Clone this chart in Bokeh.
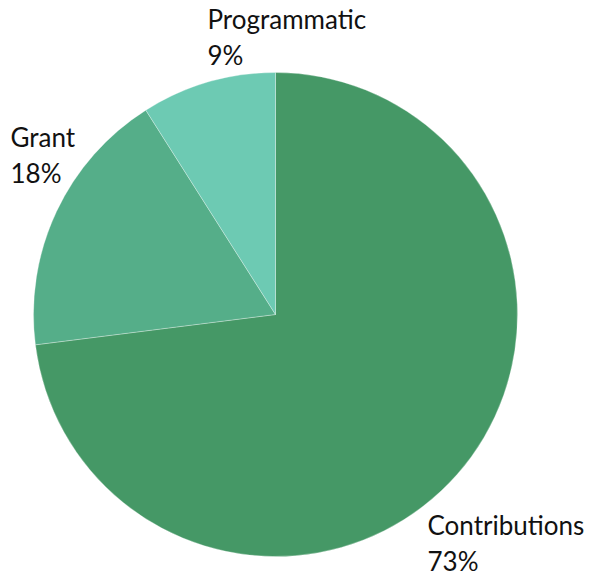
import numpy as np
from bokeh.plotting import figure
from bokeh.models import Range1d, ColumnDataSource
from bokeh.core.properties import value
from bokeh.embed import file_html
from bokeh.resources import INLINE

categories = ["Contributions", "Grant", "Programmatic"]
shares = [73, 18, 9]
colors = ["#459866", "#55ae89", "#6dcab3"]

W, H = 590, 575
p = figure(width=W, height=H, output_backend="svg", toolbar_location=None,
           x_range=Range1d(0, W), y_range=Range1d(0, H), min_border=0)
p.axis.visible = False
p.grid.visible = False
p.outline_line_color = None

def sx(x):
    return x
def sy(y):
    return H - y

vals = np.array(shares, dtype=float)
frac = vals / vals.sum()
cum = np.concatenate([[0], np.cumsum(frac)])
start = np.pi / 2 - cum[:-1] * 2 * np.pi
end = np.pi / 2 - cum[1:] * 2 * np.pi

src = ColumnDataSource(dict(start=start, end=end, color=colors))
p.wedge(x=sx(275), y=sy(314), radius=242, start_angle="start", end_angle="end",
        direction="clock", fill_color="color", line_color="white", line_alpha=0.3,
        line_width=1, source=src)

# label anchors (screen px): x, baseline of name line
anchors = {"Contributions": (427, 524), "Grant": (10, 136), "Programmatic": (207, 18)}
lx, ly1, ly2, names, pcts = [], [], [], [], []
for c, s in zip(categories, shares):
    ax, ay = anchors[c]
    lx.append(sx(ax)); ly1.append(sy(ay)); ly2.append(sy(ay + 36))
    names.append(c); pcts.append(f"{s}%")

p.text(x=lx, y=ly1, text=names, text_font=value("Lato"), text_font_size="26px",
       text_color="#111111", text_baseline="alphabetic", text_align="left")
p.text(x=lx, y=ly2, text=pcts, text_font=value("Lato"), text_font_size="26px",
       text_color="#111111", text_baseline="alphabetic", text_align="left")

open("out.html", "w").write(file_html(p, INLINE))
